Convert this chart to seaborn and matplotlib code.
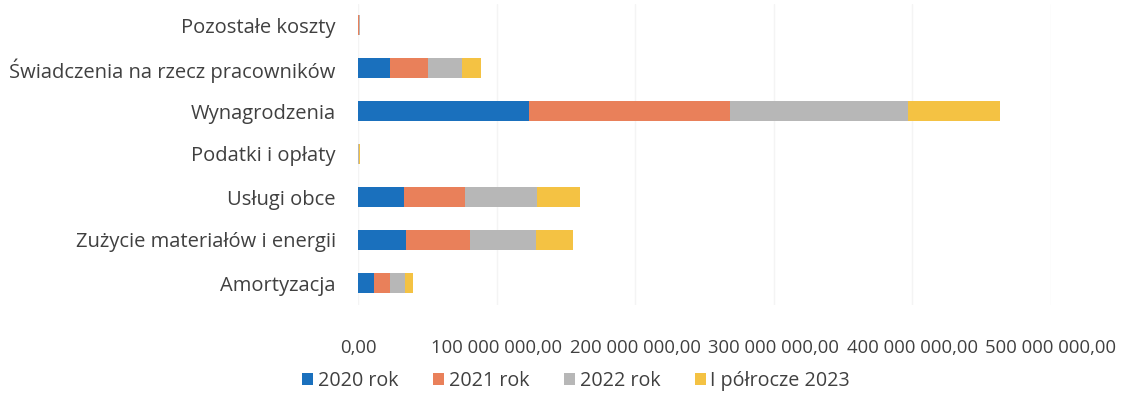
import matplotlib
matplotlib.use("Agg")
import matplotlib.pyplot as plt
import seaborn as sns
import pandas as pd
import numpy as np
from matplotlib.ticker import FuncFormatter, MultipleLocator
from matplotlib.patches import Patch

categories = ["Pozostałe koszty", "Świadczenia na rzecz pracowników", "Wynagrodzenia",
              "Podatki i opłaty", "Usługi obce", "Zużycie materiałów i energii", "Amortyzacja"]
series_names = ["2020 rok", "2021 rok", "2022 rok", "I półrocze 2023"]
v2020 = [0.2e6, 23.1e6, 123.4e6, 0.1e6, 33.2e6, 34.6e6, 11.6e6]
v2021 = [0.6e6, 27.1e6, 145.0e6, 0.2e6, 44.0e6, 46.1e6, 11.6e6]
v2022 = [0.3e6, 24.5e6, 128.4e6, 0.7e6, 51.8e6, 47.5e6, 10.9e6]
v2023 = [0.5e6, 14.4e6, 66.4e6, 0.2e6, 31.0e6, 26.6e6, 5.7e6]
colors = ["#1a70bd", "#e9805a", "#b7b7b7", "#f4c243"]

sns.set_theme(style="white")
plt.rcParams['font.family'] = ['Open Sans', 'DejaVu Sans']
txt = "#404040"

df = pd.DataFrame({"cat": categories, "2020 rok": v2020, "2021 rok": v2021,
                   "2022 rok": v2022, "I półrocze 2023": v2023})
cum = df[series_names].cumsum(axis=1)

fig = plt.figure(figsize=(11.21, 3.94), dpi=100)
ax = fig.add_axes([358/1121, 1 - 304.5/394, (1051-358)/1121, 301/394])

for name, col in reversed(list(zip(series_names, colors))):
    sns.barplot(x=cum[name], y=df["cat"], order=categories, orient="h",
                color=col, width=0.45, ax=ax, saturation=1, zorder=3,
                linewidth=0, edgecolor="none")

ax.set_xlim(0, 500e6)
ax.set_ylim(6.5, -0.5)
ax.xaxis.set_major_locator(MultipleLocator(100e6))

def fmt(v, pos):
    s = f"{v:,.2f}"
    return s.replace(",", " ").replace(".", ",")
ax.xaxis.set_major_formatter(FuncFormatter(fmt))
ax.set_xlabel("")
ax.set_ylabel("")
for s in ax.spines.values():
    s.set_visible(False)
ax.grid(axis="x", color="#f4f4f4", linewidth=1, zorder=0)
ax.tick_params(axis="x", length=0, pad=25, labelsize=13.3, labelcolor=txt)
ax.tick_params(axis="y", length=0, pad=16, labelsize=14.5, labelcolor=txt)

handles = [Patch(facecolor=c, edgecolor="none") for c in colors]
fig.legend(handles, series_names, loc="center", bbox_to_anchor=(0.514, 0.032),
           ncol=4, frameon=False, fontsize=14.2, labelcolor=txt, handlelength=0.55,
           handleheight=0.55, handletextpad=0.25, columnspacing=1.75, borderpad=0.2)

fig.savefig("out.png", dpi=100, facecolor="white")
